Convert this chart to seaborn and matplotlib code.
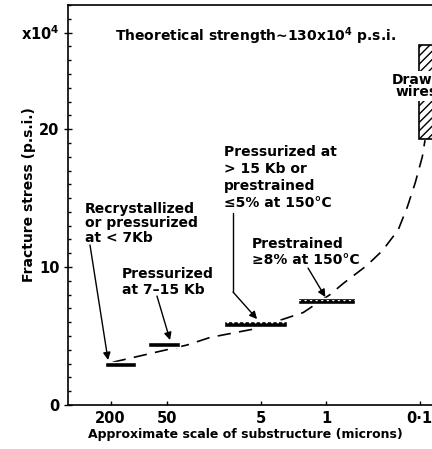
import matplotlib
matplotlib.use("Agg")
import matplotlib.pyplot as plt
from matplotlib.ticker import MultipleLocator, NullLocator
import seaborn as sns

# ---- data ----
xtick_vals = [200, 50, 5, 1, 0.1]
xtick_labels = ["200", "50", "5", "1", "0·1"]
ytick_vals = [0, 10, 20, 27]
ytick_labels = ["0", "10", "20", "x10$^\\mathbf{4}$"]

# horizontal bars: substructure range (microns) and fracture stress (x10^4 psi)
bar_lo = [107, 36, 2.6, 0.49]
bar_hi = [229, 80, 12.3, 2.0]
bar_y = [2.93, 4.38, 5.9, 7.54]

# drawn wires (vertical hatched band)
wire_lo = 0.04
wire_hi = 0.102
wire_bottom = 19.3
wire_top = 26.1

# dashed trend curve
curve_x = [190, 30.5, 17.3, 6.0, 1.76, 0.91, 0.66, 0.37, 0.25, 0.17, 0.136, 0.112, 0.094, 0.088]
curve_y = [3.1, 4.35, 4.9, 5.5, 6.7, 8.0, 8.8, 10.1, 11.2, 12.7, 14.35, 16.1, 18.0, 19.2]

sns.set_style("ticks")
plt.rcParams["font.family"] = ["DejaVu Sans"]
plt.rcParams["hatch.linewidth"] = 1.0
plt.rcParams["text.color"] = "black"
plt.rcParams["axes.labelcolor"] = "black"
plt.rcParams["xtick.color"] = "black"
plt.rcParams["ytick.color"] = "black"

fig = plt.figure(figsize=(4.32, 4.49), dpi=100)
ax = fig.add_axes([68 / 432, 44 / 449, 380 / 432, 400 / 449])

ax.set_xscale("log")
ax.set_xlim(570, 0.05)
ax.set_ylim(0, 29)

# bars
ax.barh(y=bar_y, width=[h - l for l, h in zip(bar_lo, bar_hi)], left=bar_lo,
        height=0.42, color="black", zorder=3)
ax.barh(y=bar_y[2:], width=[h - l for l, h in zip(bar_lo[2:], bar_hi[2:])],
        left=bar_lo[2:], height=0.2, facecolor="none", edgecolor="white",
        hatch="...", linewidth=0, zorder=4)

# drawn wires
ax.bar(x=wire_lo, height=wire_top - wire_bottom, bottom=wire_bottom,
       width=wire_hi - wire_lo, align="edge", facecolor="white",
       edgecolor="black", hatch="////", linewidth=1.2, zorder=2)

# dashed curve
sns.lineplot(x=curve_x, y=curve_y, ax=ax, sort=False, estimator=None,
             color="black", linewidth=1.2, linestyle=(0, (8, 5)), zorder=1)

tkw = dict(fontsize=10, fontweight="bold", color="black", va="top", ha="left")
ax.text(179, 27.54, "Theoretical strength\u223c130x10$^\\mathbf{4}$ p.s.i.", **tkw)
ax.text(376, 14.71, "Recrystallized\nor pressurized\nat < 7Kb", linespacing=1.02, **tkw)
ax.text(151, 10.0, "Pressurized\nat 7\u201315 Kb", linespacing=1.2, **tkw)
ax.text(12.3, 18.84, "Pressurized at\n> 15 Kb or\nprestrained\n\u22645% at 150°C", linespacing=1.27, **tkw)
ax.text(6.17, 12.17, "Prestrained\n\u22658% at 150°C", linespacing=1.2, **tkw)
ax.text(0.107, 24.06, "Drawn\nwires", fontsize=10, fontweight="bold", va="top",
        ha="center", linespacing=0.8, zorder=5, color="black",
        bbox=dict(facecolor="white", edgecolor="none", pad=1.5))

akw = dict(arrowstyle="-|>", lw=1.0, color="black", mutation_scale=11,
           shrinkA=0, shrinkB=0)
ax.annotate("", xy=(213, 3.26), xytext=(332, 11.6), arrowprops=akw, zorder=6)
ax.annotate("", xy=(46.4, 4.71), xytext=(64, 7.9), arrowprops=akw, zorder=6)
ax.plot([9.86, 9.86], [13.9, 8.19], color="black", lw=1.0)
ax.annotate("", xy=(5.46, 6.23), xytext=(9.86, 8.19), arrowprops=akw, zorder=6)
ax.annotate("", xy=(1.02, 7.83), xytext=(1.56, 9.93), arrowprops=akw, zorder=6)

# axes styling
for s in ax.spines.values():
    s.set_linewidth(1.2)
    s.set_color("black")
ax.set_xticks(xtick_vals, labels=xtick_labels)
ax.xaxis.set_minor_locator(NullLocator())
ax.set_yticks(ytick_vals, labels=ytick_labels)
ax.yaxis.set_minor_locator(MultipleLocator(1))
ax.tick_params(axis="x", which="major", direction="in", length=3, width=1.0,
               pad=4, labelsize=10.5, colors="black")
ax.tick_params(axis="y", which="major", direction="inout", length=6, width=1.0,
               pad=3, labelsize=10.5, colors="black")
ax.tick_params(axis="y", which="minor", direction="in", length=2.5, width=1.0,
               colors="black")
for lab in ax.get_xticklabels() + ax.get_yticklabels():
    lab.set_fontweight("bold")
    lab.set_color("black")

ax.set_xlabel("Approximate scale of substructure (microns)", fontsize=9,
              fontweight="bold", color="black")
ax.xaxis.set_label_coords(0.468, -0.057)
ax.set_ylabel("Fracture stress (p.s.i.)", fontsize=10, fontweight="bold",
              color="black")
ax.yaxis.set_label_coords(-0.085, 0.525)

fig.savefig("out.png", dpi=100)
